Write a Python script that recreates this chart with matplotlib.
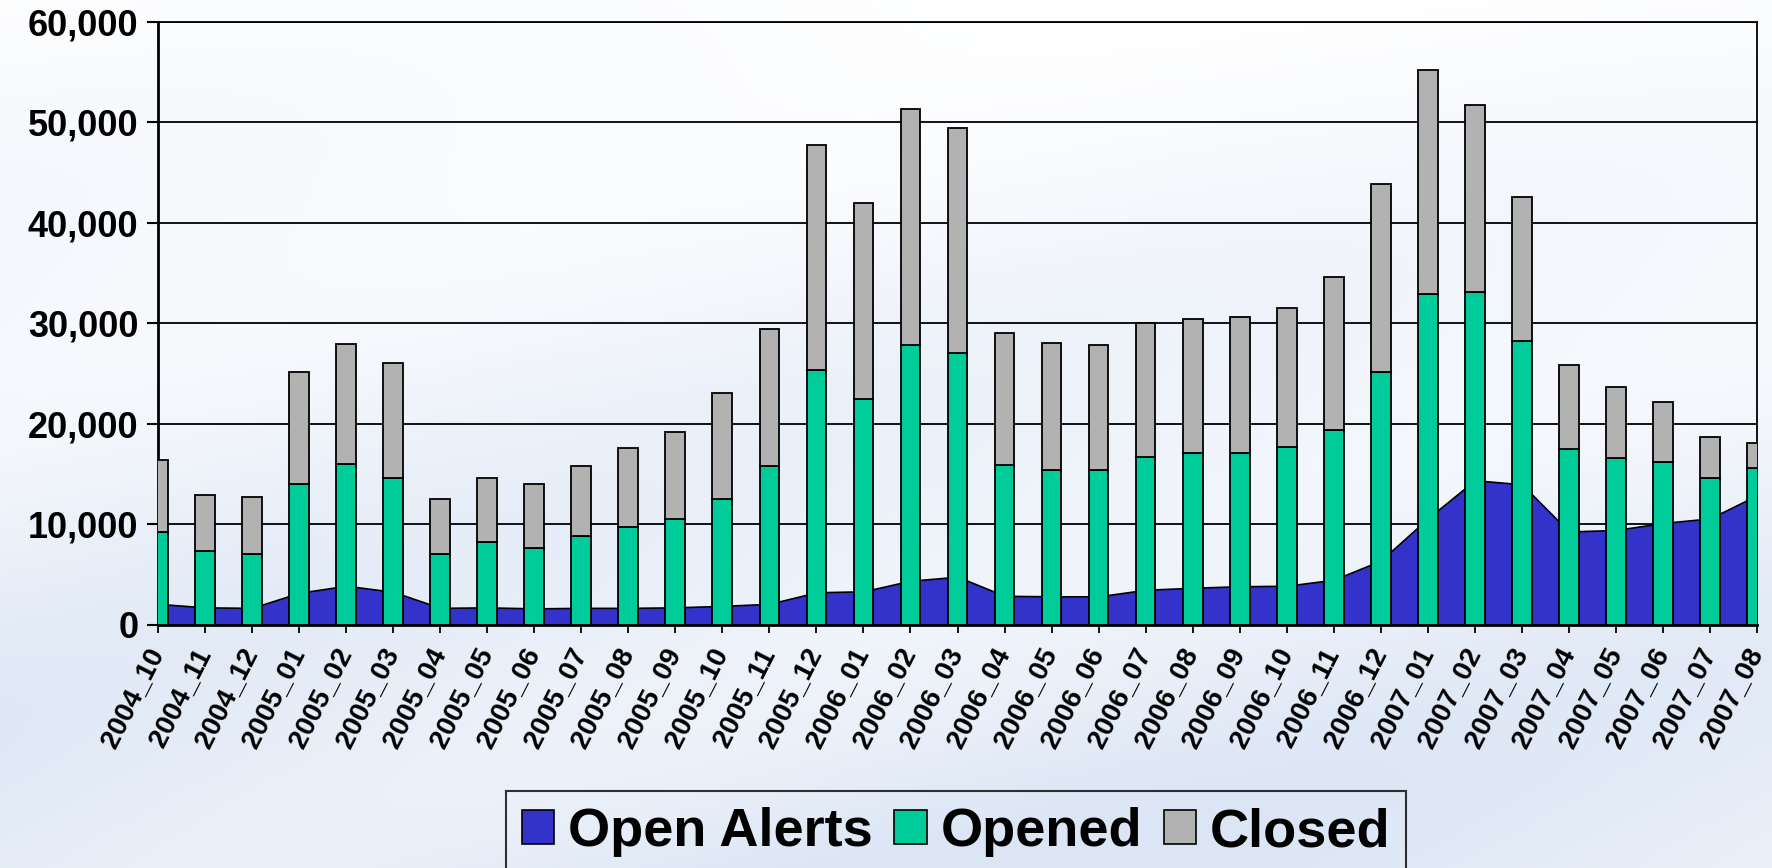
import numpy as np
import matplotlib
matplotlib.use("Agg")
from matplotlib import pyplot as plt
from matplotlib.patches import Patch
from matplotlib.ticker import FuncFormatter

plt.rcParams['font.family'] = ['Liberation Sans', 'DejaVu Sans']
plt.rcParams['font.weight'] = 'bold'

months = ["2004_10", "2004_11", "2004_12",
          "2005_01", "2005_02", "2005_03", "2005_04", "2005_05", "2005_06",
          "2005_07", "2005_08", "2005_09", "2005_10", "2005_11", "2005_12",
          "2006_01", "2006_02", "2006_03", "2006_04", "2006_05", "2006_06",
          "2006_07", "2006_08", "2006_09", "2006_10", "2006_11", "2006_12",
          "2007_01", "2007_02", "2007_03", "2007_04", "2007_05", "2007_06",
          "2007_07", "2007_08"]
open_alerts = [2100, 1750, 1700, 3200, 3900, 3300, 1700, 1750, 1650, 1700,
               1700, 1750, 1900, 2100, 3250, 3350, 4400, 4800, 2900, 2850,
               2850, 3500, 3700, 3850, 3900, 4500, 6400, 10600, 14400, 14000,
               9300, 9450, 10150, 10600, 12900]
opened = [9250, 7330, 7050, 14050, 16010, 14620, 7050, 8270, 7700, 8840,
          9760, 10530, 12520, 15810, 25370, 22480, 27850, 27110, 15930, 15370,
          15370, 16710, 17150, 17150, 17680, 19430, 25200, 32930, 33130, 28270,
          17520, 16580, 16170, 14660, 15600]
closed = [7130, 5580, 5700, 11080, 11930, 11450, 5500, 6390, 6350, 7010,
          7880, 8700, 10570, 13620, 22390, 19510, 23530, 22360, 13130, 12720,
          12480, 13290, 13250, 13460, 13860, 15200, 18660, 22310, 18620, 14310,
          8310, 7130, 5990, 4040, 2490]

c_open = '#3333CC'
c_opened = '#00CC99'
c_closed = '#B2B2B2'

fig = plt.figure(figsize=(17.72, 8.68), dpi=100)

# soft sky-like backdrop
bg = fig.add_axes([0, 0, 1, 1], zorder=-10)
yy = np.linspace(0, 1, 200)[:, None]
xx = np.linspace(0, 1, 300)[None, :]
shade = 0.6 * yy + 0.35 * (0.5 + 0.5 * np.sin(7 * xx + 10 * yy)) * (0.3 + yy)
top = np.array([1.0, 1.0, 1.0])
low = np.array([0.86, 0.90, 0.96])
img = top + (low - top) * np.clip(shade, 0, 1)[..., None]
bg.imshow(img, aspect='auto', extent=[0, 1, 0, 1], origin='upper')
bg.axis('off')

ax = fig.add_axes([0.0892, 0.280, 0.9023, 0.6947])
ax.patch.set_alpha(0)
x = np.arange(len(months))

ax.fill_between(x, open_alerts, color=c_open, edgecolor='black', linewidth=1.2, zorder=2)
ax.bar(x, opened, width=0.42, color=c_opened, edgecolor='black', linewidth=1.3, zorder=3)
ax.bar(x, closed, width=0.42, bottom=opened, color=c_closed, edgecolor='black', linewidth=1.3, zorder=3)

ax.set_xlim(0, len(months) - 1)
ax.set_ylim(0, 60000)
ax.set_yticks(range(0, 60001, 10000))
ax.yaxis.set_major_formatter(FuncFormatter(lambda v, p: f"{int(v):,}"))
ax.set_axisbelow(True)
ax.grid(axis='y', color='black', linewidth=1.3)

ax.set_xticks(x)
ax.set_xticklabels(months, rotation=63, ha='right', va='center', rotation_mode='anchor',
                   fontsize=20, fontweight='bold')
ax.tick_params(axis='y', labelsize=26, length=8, width=1.5, pad=6)
ax.tick_params(axis='x', length=6, width=1.3, pad=12)
for lab in ax.get_yticklabels():
    lab.set_fontweight('bold')

for side in ['left', 'bottom']:
    ax.spines[side].set_linewidth(2)
for side in ['top', 'right']:
    ax.spines[side].set_linewidth(1.3)

handles = [Patch(facecolor=c_open, edgecolor='black', linewidth=1.2, label='Open Alerts'),
           Patch(facecolor=c_opened, edgecolor='black', linewidth=1.2, label='Opened'),
           Patch(facecolor=c_closed, edgecolor='black', linewidth=1.2, label='Closed')]
leg = fig.legend(handles=handles, loc='upper center', bbox_to_anchor=(0.5395, 0.0887),
                 ncol=3, fontsize=39, frameon=True, fancybox=False,
                 handlelength=0.6, handleheight=0.6, handletextpad=0.25,
                 columnspacing=0.4, borderpad=0.3, borderaxespad=0)
leg.get_frame().set_edgecolor('black')
leg.get_frame().set_linewidth(1.5)
leg.get_frame().set_facecolor('none')
for t in leg.get_texts():
    t.set_fontweight('bold')

fig.savefig('out.png', dpi=100)
